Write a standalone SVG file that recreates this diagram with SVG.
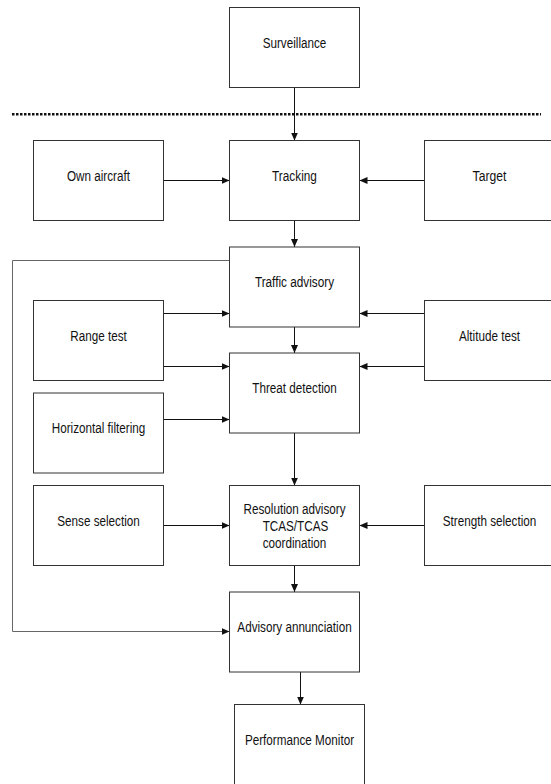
<svg xmlns="http://www.w3.org/2000/svg" width="551" height="784" viewBox="0 0 551 784">
<style>
.box{fill:#fff;stroke:#333;stroke-width:1}
.lbl{font-family:"Liberation Sans",Arial,sans-serif;font-size:14px;fill:#111;text-anchor:middle}
.con{fill:none;stroke:#111;stroke-width:1}
.fb{fill:none;stroke:#666;stroke-width:1}
</style>
<defs>
<marker id="ah" markerUnits="userSpaceOnUse" viewBox="0 0 8 7" refX="8" refY="3.5" markerWidth="8" markerHeight="7" orient="auto">
<path d="M0,0 L8,3.5 L0,7 z" fill="#111"/>
</marker>
</defs>
<rect width="551" height="784" fill="#fff"/>
<line x1="12" y1="114.2" x2="541" y2="114.2" stroke="#111" stroke-width="2.5" stroke-dasharray="2.5 1.5"/>
<g id="connectors">
<line class="con" x1="294.5" y1="87.5" x2="294.5" y2="140.5" marker-end="url(#ah)"/>
<line class="con" x1="163.5" y1="180.5" x2="229.5" y2="180.5" marker-end="url(#ah)"/>
<line class="con" x1="424.5" y1="180.5" x2="359.5" y2="180.5" marker-end="url(#ah)"/>
<line class="con" x1="294.5" y1="220.5" x2="294.5" y2="247" marker-end="url(#ah)"/>
<line class="con" x1="163.5" y1="313.5" x2="229.5" y2="313.5" marker-end="url(#ah)"/>
<line class="con" x1="424.5" y1="313.5" x2="359.5" y2="313.5" marker-end="url(#ah)"/>
<line class="con" x1="294.5" y1="327" x2="294.5" y2="353" marker-end="url(#ah)"/>
<line class="con" x1="163.5" y1="366.5" x2="229.5" y2="366.5" marker-end="url(#ah)"/>
<line class="con" x1="424.5" y1="366.5" x2="359.5" y2="366.5" marker-end="url(#ah)"/>
<line class="con" x1="163.5" y1="419.5" x2="229.5" y2="419.5" marker-end="url(#ah)"/>
<line class="con" x1="294.5" y1="433" x2="294.5" y2="485.5" marker-end="url(#ah)"/>
<line class="con" x1="163.5" y1="525.5" x2="229.5" y2="525.5" marker-end="url(#ah)"/>
<line class="con" x1="424.5" y1="525.5" x2="359.5" y2="525.5" marker-end="url(#ah)"/>
<line class="con" x1="294.5" y1="565.5" x2="294.5" y2="592" marker-end="url(#ah)"/>
<polyline class="fb" points="229.5,260.5 12.5,260.5 12.5,631.5 229.5,631.5" marker-end="url(#ah)"/>
<line class="con" x1="300.5" y1="664" x2="300.5" y2="704.5" marker-end="url(#ah)"/>
</g>
<g id="surveillance"><rect class="box" x="229.5" y="7.5" width="130" height="80"/><text class="lbl" x="294.5" y="47.5" textLength="63.7" lengthAdjust="spacingAndGlyphs">Surveillance</text></g>
<g id="own-aircraft"><rect class="box" x="33.5" y="140.5" width="130" height="80"/><text class="lbl" x="98.5" y="180.5" textLength="63" lengthAdjust="spacingAndGlyphs">Own aircraft</text></g>
<g id="tracking"><rect class="box" x="229.5" y="140.5" width="130" height="80"/><text class="lbl" x="294.5" y="180.5" textLength="44.8" lengthAdjust="spacingAndGlyphs">Tracking</text></g>
<g id="target"><rect class="box" x="424.5" y="140.5" width="127" height="80"/><text class="lbl" x="489.5" y="180.5" textLength="33.8" lengthAdjust="spacingAndGlyphs">Target</text></g>
<g id="traffic-advisory"><rect class="box" x="229.5" y="247" width="130" height="80"/><text class="lbl" x="294.5" y="287" textLength="79.2" lengthAdjust="spacingAndGlyphs">Traffic advisory</text></g>
<g id="range-test"><rect class="box" x="33.5" y="300.5" width="130" height="80"/><text class="lbl" x="98.5" y="340.5" textLength="56.5" lengthAdjust="spacingAndGlyphs">Range test</text></g>
<g id="altitude-test"><rect class="box" x="424.5" y="300.5" width="127" height="80"/><text class="lbl" x="489.5" y="340.5" textLength="61.1" lengthAdjust="spacingAndGlyphs">Altitude test</text></g>
<g id="threat-detection"><rect class="box" x="229.5" y="353" width="130" height="80"/><text class="lbl" x="294.5" y="393" textLength="84.5" lengthAdjust="spacingAndGlyphs">Threat detection</text></g>
<g id="horizontal-filtering"><rect class="box" x="33.5" y="393" width="130" height="80"/><text class="lbl" x="98.5" y="433" textLength="93.5" lengthAdjust="spacingAndGlyphs">Horizontal filtering</text></g>
<g id="sense-selection"><rect class="box" x="33.5" y="485.5" width="130" height="80"/><text class="lbl" x="98.5" y="525.5" textLength="82.5" lengthAdjust="spacingAndGlyphs">Sense selection</text></g>
<g id="resolution-advisory"><rect class="box" x="229.5" y="485.5" width="130" height="80"/>
<text class="lbl" x="294.5" y="514" textLength="102" lengthAdjust="spacingAndGlyphs">Resolution advisory</text>
<text class="lbl" x="295.5" y="531" textLength="65.6" lengthAdjust="spacingAndGlyphs">TCAS/TCAS</text>
<text class="lbl" x="294.5" y="548" textLength="63.7" lengthAdjust="spacingAndGlyphs">coordination</text></g>
<g id="strength-selection"><rect class="box" x="424.5" y="485.5" width="127" height="80"/><text class="lbl" x="489.5" y="525.5" textLength="93.6" lengthAdjust="spacingAndGlyphs">Strength selection</text></g>
<g id="advisory-annunciation"><rect class="box" x="229.5" y="592" width="130" height="80"/><text class="lbl" x="294.5" y="632" textLength="114.3" lengthAdjust="spacingAndGlyphs">Advisory annunciation</text></g>
<g id="performance-monitor"><rect class="box" x="234.5" y="704.5" width="130" height="80"/><text class="lbl" x="299.5" y="744.5" textLength="109.2" lengthAdjust="spacingAndGlyphs">Performance Monitor</text></g>
</svg>
